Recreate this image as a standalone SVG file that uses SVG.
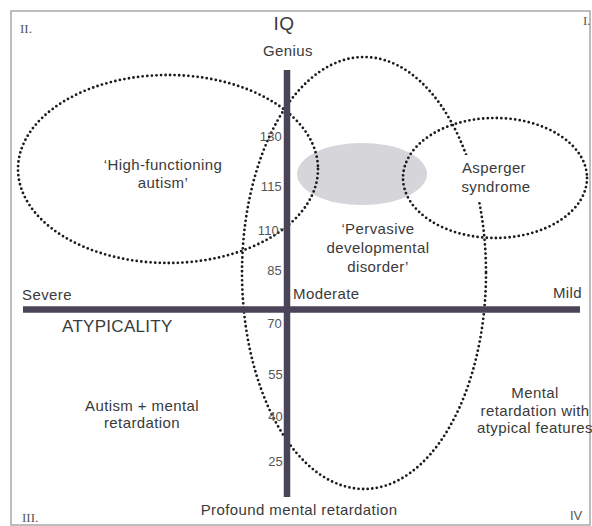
<svg xmlns="http://www.w3.org/2000/svg" width="592" height="526" viewBox="0 0 592 526">
<style>
text{font-family:"Liberation Sans",Arial,sans-serif;fill:#3a3a3a;font-size:15px;letter-spacing:0.4px}
.c{text-anchor:middle}
.n{font-size:13px;fill:#555;text-anchor:end;letter-spacing:0.2px}
.r{font-family:"Liberation Serif","Times New Roman",serif;font-size:13px;fill:#555;letter-spacing:0}
.dot{fill:none;stroke:#1c1c1c;stroke-width:2.8;stroke-dasharray:0 4.6;stroke-linecap:round}
.bar{stroke:#4b4459;stroke-width:6.5;fill:none}
</style>
<rect x="11" y="11" width="579" height="514" fill="#fff" stroke="#9a9a9a" stroke-width="1.3"/>
<g id="pdd-core"><ellipse cx="362" cy="174" rx="65" ry="31" fill="#d5d5da"/></g>
<g id="hfa-region"><ellipse class="dot" cx="168" cy="169" rx="150" ry="94"/></g>
<g id="pdd-region"><ellipse class="dot" cx="364" cy="273" rx="122" ry="216"/></g>
<g id="asperger-region"><ellipse class="dot" cx="495" cy="178" rx="92" ry="60"/></g>
<g id="axes">
<line class="bar" x1="287" y1="70" x2="287" y2="497"/>
<line class="bar" x1="23" y1="309.5" x2="580" y2="309.5"/>
<line x1="280" y1="229" x2="285" y2="229" stroke="#555" stroke-width="1.2"/>
</g>
<g id="iq-labels">
<text x="284" y="30" class="c" style="font-size:19px">IQ</text>
<text x="288" y="56" class="c">Genius</text>
<text x="282" y="141" class="n">130</text>
<text x="282" y="191" class="n">115</text>
<text x="279" y="235" class="n">110</text>
<text x="282" y="275" class="n">85</text>
<text x="282" y="328" class="n">70</text>
<text x="283" y="379" class="n">55</text>
<text x="283" y="421" class="n">40</text>
<text x="283" y="466" class="n">25</text>
<text x="299" y="515" class="c">Profound mental retardation</text>
</g>
<g id="atypicality-labels">
<text x="22" y="300">Severe</text>
<text x="293" y="299">Moderate</text>
<text x="582" y="298" style="text-anchor:end">Mild</text>
<text x="62" y="332" style="font-size:17px;letter-spacing:0.3px">ATYPICALITY</text>
</g>
<g id="quadrants">
<text x="20" y="33" class="r">II.</text>
<text x="583" y="25" class="r">I.</text>
<text x="22" y="522" class="r">III.</text>
<text x="570" y="520" class="r" style="font-family:'Liberation Sans',sans-serif">IV</text>
</g>
<g id="hfa-label">
<text x="163" y="170" class="c">‘High-functioning</text>
<text x="163" y="188" class="c">autism’</text>
</g>
<g id="pdd-label">
<text x="378" y="234" class="c">‘Pervasive</text>
<text x="378" y="253" class="c">developmental</text>
<text x="378" y="272" class="c">disorder’</text>
</g>
<g id="asperger-label">
<rect x="458" y="155" width="76" height="47" fill="#fff"/>
<text x="494" y="173" class="c">Asperger</text>
<text x="496" y="192" class="c">syndrome</text>
</g>
<g id="amr-label">
<text x="142" y="411" class="c">Autism + mental</text>
<text x="142" y="428" class="c">retardation</text>
</g>
<g id="mr-atypical-label">
<text x="535" y="398" class="c">Mental</text>
<text x="535" y="416" class="c">retardation with</text>
<text x="535" y="433" class="c">atypical features</text>
</g>
</svg>
